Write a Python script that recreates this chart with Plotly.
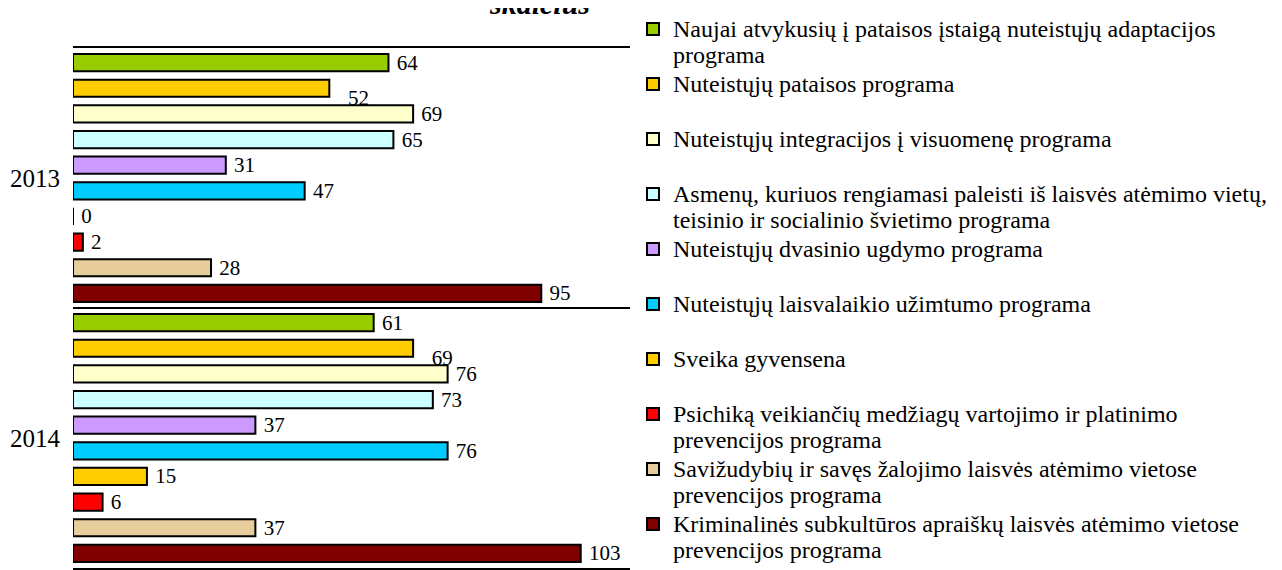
import plotly.graph_objects as go

years = ["2013", "2014"]

series_names = [
    ["Naujai atvykusių į pataisos įstaigą nuteistųjų adaptacijos", "programa"],
    ["Nuteistųjų pataisos programa", "\u00a0"],
    ["Nuteistųjų integracijos į visuomenę programa", "\u00a0"],
    ["Asmenų, kuriuos rengiamasi paleisti iš laisvės atėmimo vietų,", "teisinio ir socialinio švietimo programa"],
    ["Nuteistųjų dvasinio ugdymo programa", "\u00a0"],
    ["Nuteistųjų laisvalaikio užimtumo programa", "\u00a0"],
    ["Sveika gyvensena", "\u00a0"],
    ["Psichiką veikiančių medžiagų vartojimo ir platinimo", "prevencijos programa"],
    ["Savižudybių ir savęs žalojimo laisvės atėmimo vietose", "prevencijos programa"],
    ["Kriminalinės subkultūros apraiškų laisvės atėmimo vietose", "prevencijos programa"],
]

naujai = [64, 61]
pataisos = [52, 69]
integracijos = [69, 76]
asmenu = [65, 73]
dvasinio = [31, 37]
laisvalaikio = [47, 76]
sveika = [0, 15]
psichika = [2, 6]
savizudybiu = [28, 37]
kriminalines = [95, 103]

series_values = [naujai, pataisos, integracijos, asmenu, dvasinio,
                 laisvalaikio, sveika, psichika, savizudybiu, kriminalines]

colors = ["#99CC00", "#FFCC00", "#FFFFCC", "#CCFFFF", "#CC99FF",
          "#00CCFF", "#FFCC00", "#FF0000", "#E6CD9B", "#800000"]

FONT = "Liberation Serif"


def legend_label(lines):
    return "<br>".join(f"<span style='font-size:24px'>{ln}</span>" for ln in lines)


fig = go.Figure()
for i, (name, vals, col) in enumerate(zip(series_names, series_values, colors)):
    if i == 1:
        # this series' labels sit lower and further right in the original
        tmpl = "<span style='font-size:12px'>\u00a0</span><br>\u00a0\u00a0\u00a0%{x}"
    else:
        tmpl = "\u00a0%{x}"
    fig.add_trace(go.Bar(
        y=years, x=vals, name=legend_label(name), orientation="h",
        marker=dict(color=col, line=dict(color="black", width=2)),
        texttemplate=tmpl, textposition="outside", constraintext="none",
        textfont=dict(family=FONT, size=21, color="black"),
        cliponaxis=False,
    ))

fig.update_layout(
    width=1274, height=562,
    paper_bgcolor="white", plot_bgcolor="white",
    margin=dict(l=65, r=652, t=36, b=2),
    barmode="group", bargap=0.014, bargroupgap=0.33,
    font=dict(family=FONT, color="black"),
    showlegend=True,
    legend=dict(
        x=1.0054, xanchor="left", y=1.074, yanchor="top",
        font=dict(family=FONT, size=20, color="black"),
        valign="top", traceorder="normal",
        bgcolor="rgba(0,0,0,0)",
    ),
    annotations=[dict(
        text="skaičius", xref="paper", yref="paper",
        x=0.838, xanchor="center", y=1.0, yanchor="bottom", yshift=26,
        showarrow=False,
        font=dict(family=FONT, size=30, color="black", weight="bold", style="italic"),
    )],
)

try:
    fig.update_layout(legend_maxheight=700)
except Exception:
    pass

fig.update_xaxes(range=[0, 113], showgrid=False, zeroline=False,
                 showticklabels=False, showline=True, mirror=True,
                 linecolor="black", linewidth=2, ticks="")
fig.update_yaxes(type="category", range=[1.5, -0.5], tickson="boundaries",
                 showgrid=True, gridcolor="black", gridwidth=2,
                 showline=False, ticks="", ticklabelstandoff=12,
                 tickfont=dict(family=FONT, size=25, color="black"))

fig.write_html("out.html")
